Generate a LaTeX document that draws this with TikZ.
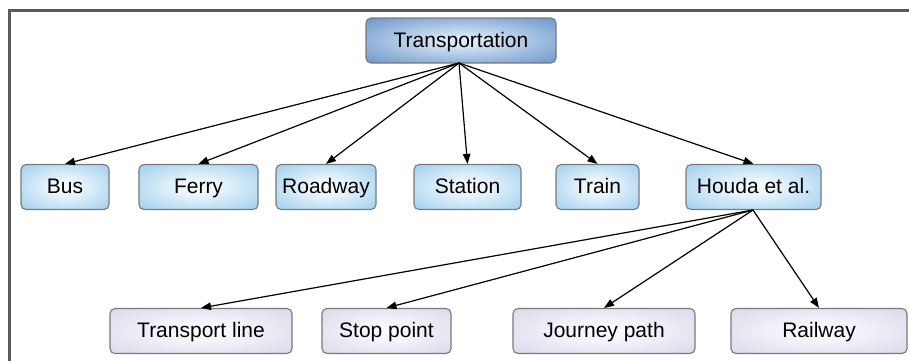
\documentclass[tikz,border=0pt]{standalone}
\usepackage{fontspec}
\setmainfont{Liberation Sans}
\usetikzlibrary{arrows.meta}
\definecolor{topout}{HTML}{4A7EBF}
\definecolor{topin}{HTML}{DDEAF7}
\definecolor{midout}{HTML}{88C3E9}
\definecolor{midin}{HTML}{F4FAFE}
\definecolor{lowout}{HTML}{D4CEE5}
\definecolor{lowin}{HTML}{FBFAFE}
\definecolor{edgegray}{HTML}{7A7A7A}
\definecolor{framegray}{HTML}{5A5A5A}
\pgfdeclareradialshading{topshade}{\pgfpoint{0bp}{0bp}}{color(0bp)=(topin); color(4bp)=(topin); color(44bp)=(topout); color(75bp)=(topout)}
\pgfdeclareradialshading{midshade}{\pgfpoint{0bp}{0bp}}{color(0bp)=(midin); color(5bp)=(midin); color(44bp)=(midout); color(75bp)=(midout)}
\pgfdeclareradialshading{lowshade}{\pgfpoint{0bp}{0bp}}{color(0bp)=(lowin); color(5bp)=(lowin); color(44bp)=(lowout); color(75bp)=(lowout)}
\tikzset{
  box/.style={draw=edgegray, line width=1.1pt, rounded corners=5pt, inner sep=0pt,
    font=\fontsize{21}{24}\selectfont, text=black, minimum height=45pt,
    text height=16pt, text depth=3pt},
  topbox/.style={box, shading=topshade},
  midbox/.style={box, shading=midshade},
  lowbox/.style={box, shading=lowshade},
  conn/.style={line width=1.2pt, -{Triangle[length=10pt,width=7.5pt]}}
}
\begin{document}
\begin{tikzpicture}[x=1pt,y=-1pt]
\useasboundingbox (0,0) rectangle (909,360);
\fill[white] (0,0) rectangle (909,360);
\draw[framegray, line width=3pt] (9.5,362) -- (9.5,10) -- (911,10);

\node[topbox, minimum width=190pt] (top) at (461,40.5) {Transportation};

\node[midbox, minimum width=88pt]  (bus)     at (65,187)    {Bus};
\node[midbox, minimum width=119pt] (ferry)   at (198.5,187) {Ferry};
\node[midbox, minimum width=100pt] (roadway) at (326,187)   {Roadway};
\node[midbox, minimum width=107pt] (station) at (467.5,187) {Station};
\node[midbox, minimum width=83pt]  (train)   at (597.5,187) {Train};
\node[midbox, minimum width=135pt] (houda)   at (753.5,187) {Houda et al.};

\node[lowbox, minimum width=182pt] (tline)   at (201,331)   {Transport line};
\node[lowbox, minimum width=129pt] (stop)    at (386.5,331) {Stop point};
\node[lowbox, minimum width=182pt] (journey) at (604,331)   {Journey path};
\node[lowbox, minimum width=176pt] (railway) at (819,331)   {Railway};

\coordinate (ts) at (459,63);
\coordinate (hs) at (753,210);
\foreach \n in {bus,ferry,roadway,station,train,houda}
  \draw[conn] (ts) -- (\n.north);
\foreach \n in {tline,stop,journey,railway}
  \draw[conn] (hs) -- (\n.north);
\end{tikzpicture}
\end{document}
